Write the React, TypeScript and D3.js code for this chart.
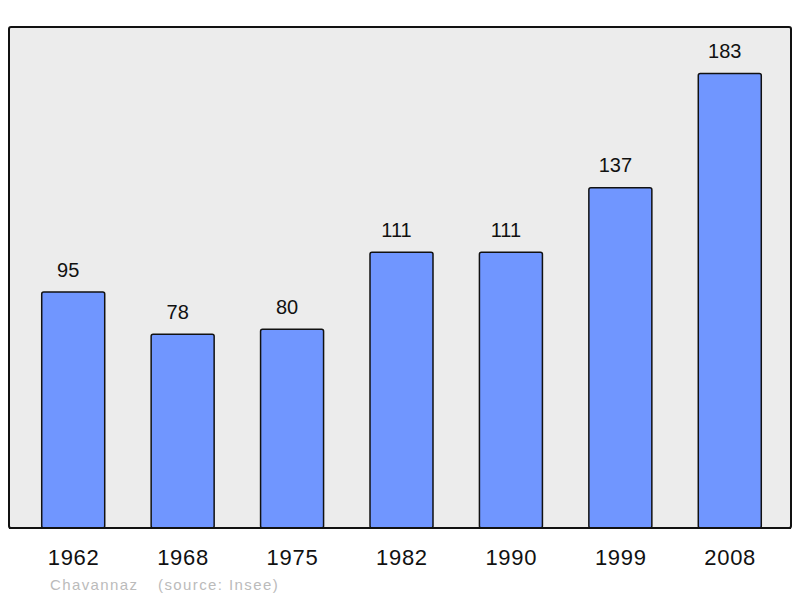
import React from "react";
import * as d3 from "d3";

const years = ["1962", "1968", "1975", "1982", "1990", "1999", "2008"];
const population = [95, 78, 80, 111, 111, 137, 183];
const commune = "Chavannaz";
const sourceText = "(source: Insee)";

const W = 800;
const H = 598;
const frame = { left: 9, right: 791, top: 27, bottom: 528 };

export default function App() {
  const x = d3
    .scaleBand<string>()
    .domain(years)
    .range([18.5, 784.5])
    .paddingInner(0.4243)
    .paddingOuter(0.2122);
  const y = d3.scaleLinear().domain([0, 183]).range([frame.bottom, 73.5]);
  const font = "'Liberation Sans', Arial, sans-serif";

  return (
    <svg
      width={W}
      height={H}
      style={{ position: "absolute", left: 0, top: 0, background: "#fff" }}
      fontFamily={font}
    >
      <rect
        x={frame.left}
        y={frame.top}
        width={frame.right - frame.left}
        height={frame.bottom - frame.top}
        rx={2}
        fill="#ececec"
        stroke="#111"
        strokeWidth={2}
      />
      {years.map((yr, i) => {
        const v = population[i];
        const bx = x(yr)!;
        const bw = x.bandwidth();
        return (
          <g key={yr}>
            <rect
              x={bx}
              y={y(v)}
              width={bw}
              height={frame.bottom - y(v)}
              rx={2}
              fill="#7096ff"
              stroke="#111"
              strokeWidth={1.5}
            />
            <text
              x={bx + bw / 2 - 5}
              y={y(v) - 15.5}
              textAnchor="middle"
              fontSize={20}
              fill="#111"
            >
              {v}
            </text>
            <text
              x={bx + bw / 2 + 0.4}
              y={564.8}
              textAnchor="middle"
              fontSize={22}
              letterSpacing={0.7}
              fill="#111"
            >
              {yr}
            </text>
          </g>
        );
      })}
      <text x={50} y={590} fontSize={15} letterSpacing={1.4} fill="#bbb">
        {commune}
      </text>
      <text x={158} y={590} fontSize={15} letterSpacing={1.4} fill="#bbb">
        {sourceText}
      </text>
      <line
        x1={frame.left}
        x2={frame.right}
        y1={frame.bottom}
        y2={frame.bottom}
        stroke="#111"
        strokeWidth={2}
      />
    </svg>
  );
}
